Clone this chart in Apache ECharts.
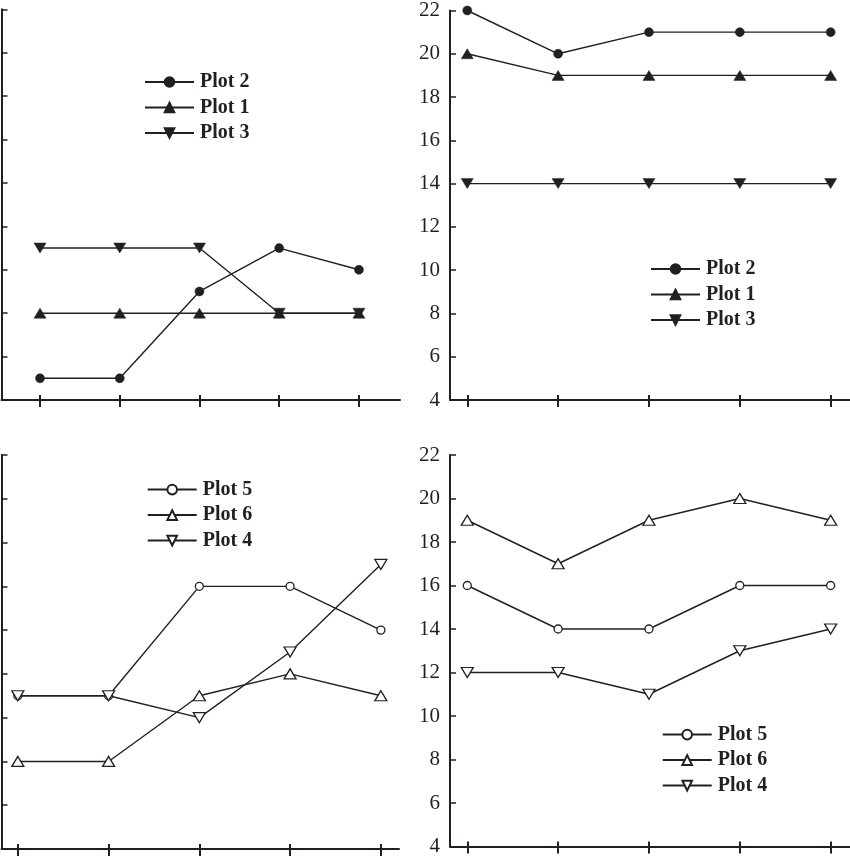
<!DOCTYPE html>
<html>
<head>
<meta charset="utf-8">
<script src="https://cdn.jsdelivr.net/npm/echarts@6/dist/echarts.min.js"></script>
<style>
html,body{margin:0;padding:0;background:#fff;}
#chart{width:850px;height:857px;}
</style>
</head>
<body>
<div id="chart"></div>
<script>
// ---- data ----
const xCats = [1, 2, 3, 4, 5];
const yMin = 4, yMax = 22, yStep = 2;
// top-left panel
const tlPlot2 = [5, 5, 9, 11, 10];
const tlPlot1 = [8, 8, 8, 8, 8];
const tlPlot3 = [11, 11, 11, 8, 8];
// top-right panel
const trPlot2 = [22, 20, 21, 21, 21];
const trPlot1 = [20, 19, 19, 19, 19];
const trPlot3 = [14, 14, 14, 14, 14];
// bottom-left panel
const blPlot5 = [11, 11, 16, 16, 14];
const blPlot6 = [8, 8, 11, 12, 11];
const blPlot4 = [11, 11, 10, 13, 17];
// bottom-right panel
const brPlot5 = [16, 14, 14, 16, 16];
const brPlot6 = [19, 17, 19, 20, 19];
const brPlot4 = [12, 12, 11, 13, 14];
const topLegend = ['Plot 2', 'Plot 1', 'Plot 3'];
const bottomLegend = ['Plot 5', 'Plot 6', 'Plot 4'];

// ---- styling ----
const INK = '#231f20';
const FONT = 'Liberation Serif';
const DOWN_TRI = 'path://M0,0 L10,0 L5,9 Z';

const grids = [
  {left: 1.5, top: 9.3, width: 398.5, height: 390.7},
  {left: 450, top: 9.3, width: 400, height: 390.7},
  {left: 1.5, top: 455, width: 397.5, height: 394},
  {left: 450, top: 455, width: 400, height: 394}
];
const xRanges = [[0.517, 5.515], [0.81, 5.213], [0.82, 5.2], [0.81, 5.213]];

const xAxes = [];
grids.forEach((g, i) => {
  xAxes.push({
    type: 'value', gridIndex: i, min: xRanges[i][0], max: xRanges[i][1],
    axisLine: {show: true, lineStyle: {color: INK, width: 2}},
    axisTick: {show: true, inside: false, length: 7, lineStyle: {color: INK, width: 2}, customValues: xCats},
    axisLabel: {show: false, customValues: xCats},
    splitLine: {show: false}
  });
});
grids.forEach((g, i) => {
  xAxes.push({
    type: 'value', gridIndex: i, min: xRanges[i][0], max: xRanges[i][1], position: 'bottom',
    axisLine: {show: false},
    axisTick: {show: true, inside: true, length: 5, lineStyle: {color: INK, width: 2}, customValues: xCats},
    axisLabel: {show: false, customValues: xCats},
    splitLine: {show: false}
  });
});
const yAxes = grids.map((g, i) => ({
  type: 'value', gridIndex: i, min: yMin, max: yMax, interval: yStep,
  axisLine: {show: true, lineStyle: {color: INK, width: 2}},
  axisTick: {show: true, inside: true, length: 6, lineStyle: {color: INK, width: 1.5}},
  axisLabel: {show: i % 2 === 1, color: INK, fontFamily: FONT, fontSize: 21, margin: 10},
  splitLine: {show: false}
}));

function pts(arr) { return arr.map((v, k) => [xCats[k], v]); }
function filled(name, arr, idx, symbol, size) {
  return {
    type: 'line', name: name, xAxisIndex: idx, yAxisIndex: idx, data: pts(arr),
    symbol: symbol, symbolSize: size, showSymbol: true,
    lineStyle: {color: INK, width: 1.4},
    itemStyle: {color: INK, borderColor: INK, borderWidth: 0.5},
    emphasis: {disabled: true}
  };
}
function hollow(name, arr, idx, symbol, size) {
  return {
    type: 'line', name: name, xAxisIndex: idx, yAxisIndex: idx, data: pts(arr),
    symbol: symbol, symbolSize: size, showSymbol: true,
    lineStyle: {color: INK, width: 1.4},
    itemStyle: {color: '#fff', borderColor: INK, borderWidth: 1.3},
    emphasis: {disabled: true}
  };
}

const series = [
  filled('Plot 2', tlPlot2, 0, 'circle', 9),
  filled('Plot 1', tlPlot1, 0, 'triangle', [12, 10]),
  filled('Plot 3', tlPlot3, 0, DOWN_TRI, [12, 10]),
  filled('Plot 2', trPlot2, 1, 'circle', 9),
  filled('Plot 1', trPlot1, 1, 'triangle', [12, 10]),
  filled('Plot 3', trPlot3, 1, DOWN_TRI, [12, 10]),
  hollow('Plot 5', blPlot5, 2, 'circle', 8),
  hollow('Plot 6', blPlot6, 2, 'triangle', [12, 10]),
  hollow('Plot 4', blPlot4, 2, DOWN_TRI, [12, 10]),
  hollow('Plot 5', brPlot5, 3, 'circle', 8),
  hollow('Plot 6', brPlot6, 3, 'triangle', [12, 10]),
  hollow('Plot 4', brPlot4, 3, DOWN_TRI, [12, 10])
];

function legend(data, left, top) {
  return {
    data: data, orient: 'vertical', left: left, top: top, padding: 0,
    itemWidth: 49, itemHeight: 12, itemGap: 5.5, selectedMode: false,
    textStyle: {color: INK, fontFamily: FONT, fontWeight: 'bold', fontSize: 20, padding: [0, 0, 0, 1]}
  };
}

const option = {
  animation: false,
  backgroundColor: '#fff',
  grid: grids,
  xAxis: xAxes,
  yAxis: yAxes,
  legend: [
    legend(topLegend, 144, 72.0),
    legend(topLegend, 650, 259.0),
    legend(bottomLegend, 146.7, 479.6),
    legend(bottomLegend, 661.7, 724.6)
  ],
  series: series
};

const chart = echarts.init(document.getElementById('chart'), null, {renderer: 'canvas'});
chart.setOption(option);
</script>
</body>
</html>
